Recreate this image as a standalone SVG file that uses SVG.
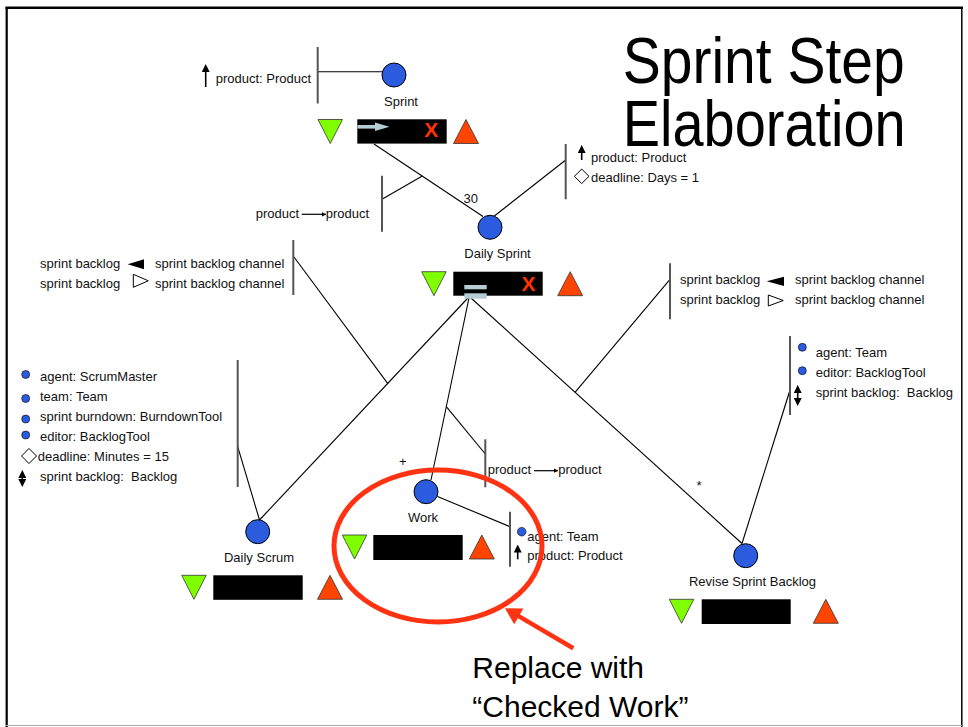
<svg xmlns="http://www.w3.org/2000/svg" width="968" height="727" viewBox="0 0 968 727">
  <style>
    text { font-family: "Liberation Sans", Arial, Helvetica, sans-serif; fill: #111; }
    .lbl { font-size: 13px; }
    .big { font-size: 30px; fill: #000; }
    .title { font-size: 65px; fill: #000; }
    .conn line { stroke: #000; stroke-width: 1.1; fill: none; }
    .bar { stroke: #555; stroke-width: 2; }
    .step { fill: #2B5BDE; stroke: #000; stroke-width: 1; }
    .pre { fill: #80FF00; stroke: #333; stroke-width: 0.8; }
    .post { fill: #FF4400; stroke: #333; stroke-width: 0.8; }
    .body { fill: #000; }
    .x { font-size: 21px; font-weight: bold; fill: #FF3300; }
    .flow { fill: #B4CCD4; }
    .dot { fill: #2B5BDE; stroke: #000; stroke-width: 0.6; }
    .dia { fill: #fff; stroke: #000; stroke-width: 1; }
    .arw { stroke: #000; stroke-width: 1.6; }
    .ptr { stroke: #000; stroke-width: 1.2; }
    .note { fill: none; stroke: #FF3311; stroke-width: 5; }
  </style>
  <defs>
    <polygon id="preTri" points="0,0 24.5,0 12.25,24"/>
    <polygon id="postTri" points="0,24 12.5,0 25,24"/>
    <marker id="headUp" viewBox="0 0 8 8" refX="4" refY="4" markerWidth="5" markerHeight="5" orient="auto-start-reverse">
      <path d="M0,0 L8,4 L0,8 z" fill="#000"/>
    </marker>
    <marker id="headSm" viewBox="0 0 8 8" refX="7" refY="4" markerWidth="4" markerHeight="4" orient="auto">
      <path d="M0,0 L8,4 L0,8 z" fill="#000"/>
    </marker>
  </defs>

  <!-- page frame -->
  <rect x="0" y="0" width="968" height="727" fill="#fff"/>
  <line x1="5.5" y1="7.8" x2="963" y2="7.8" stroke="#000" stroke-width="2.4"/>
  <line x1="6.7" y1="7" x2="6.7" y2="727" stroke="#000" stroke-width="2.2"/>
  <line x1="961.8" y1="7" x2="961.8" y2="727" stroke="#000" stroke-width="1.5"/>
  <line x1="6" y1="725.5" x2="962" y2="725.5" stroke="#aaa" stroke-width="1.2"/>

  <!-- title -->
  <text class="title" x="622.7" y="83" textLength="282" lengthAdjust="spacingAndGlyphs">Sprint Step</text>
  <text class="title" x="622.7" y="145.5" textLength="283" lengthAdjust="spacingAndGlyphs">Elaboration</text>

  <!-- connectors -->
  <g id="connectors" class="conn">
    <line x1="318" y1="71.7" x2="382.5" y2="71.7"/>
    <line x1="374" y1="144" x2="483" y2="216.5"/>
    <line x1="422.3" y1="176" x2="382" y2="199.3"/>
    <line x1="494.3" y1="216" x2="565.7" y2="160"/>
    <line x1="469.3" y1="296.5" x2="259.5" y2="520"/>
    <line x1="388" y1="383.8" x2="294" y2="257"/>
    <line x1="469.3" y1="296.5" x2="431" y2="480"/>
    <line x1="446.3" y1="406.7" x2="485.3" y2="454"/>
    <line x1="469.3" y1="296.5" x2="742" y2="543.5"/>
    <line x1="575" y1="392.4" x2="670" y2="279.3"/>
    <line x1="437.5" y1="496.5" x2="510" y2="526.7"/>
    <line x1="237.7" y1="446.7" x2="259.5" y2="520"/>
    <line x1="790" y1="390" x2="742" y2="543.5"/>
  </g>

  <!-- multiplicity marks -->
  <g id="multiplicities">
    <text class="lbl" x="463.5" y="202.7">30</text>
    <text class="lbl" x="402.7" y="466" text-anchor="middle">+</text>
    <text class="lbl" x="699" y="490" text-anchor="middle">*</text>
  </g>

  <!-- Sprint -->
  <g id="sprint">
    <circle class="step" cx="394" cy="75" r="12"/>
    <text class="lbl" x="401" y="106" text-anchor="middle">Sprint</text>
    <use href="#preTri" class="pre" x="318" y="119.5"/>
    <rect class="body" x="357.3" y="119.3" width="89.4" height="24.3"/>
    <rect class="flow" x="357.5" y="125" width="19" height="3.6"/>
    <polygon class="flow" points="375,122.5 389.5,126.8 375,131.1"/>
    <text class="x" x="431.3" y="136.7" text-anchor="middle">X</text>
    <use href="#postTri" class="post" x="453.5" y="119.5"/>
  </g>
  <g id="sprint-params">
    <line class="bar" x1="317.7" y1="47" x2="317.7" y2="103.5"/>
    <line class="arw" x1="205.7" y1="87" x2="205.7" y2="68" marker-end="url(#headUp)"/>
    <text class="lbl" x="215.7" y="82.7">product: Product</text>
  </g>
  <g id="sprint-flow">
    <line class="bar" x1="382" y1="175.7" x2="382" y2="231.7"/>
    <text class="lbl" x="255.7" y="218.3">product</text>
    <line class="ptr" x1="301.7" y1="214.3" x2="325.7" y2="214.3" marker-end="url(#headSm)"/>
    <text class="lbl" x="325.7" y="218.3">product</text>
  </g>

  <!-- Daily Sprint -->
  <g id="daily-sprint">
    <circle class="step" cx="490" cy="227.3" r="12"/>
    <text class="lbl" x="497.5" y="258.3" text-anchor="middle">Daily Sprint</text>
    <use href="#preTri" class="pre" x="421.7" y="271.7"/>
    <rect class="body" x="453.3" y="271.7" width="89.4" height="24"/>
    <rect class="flow" x="464.3" y="285" width="22.4" height="4.3"/>
    <rect class="flow" x="464.3" y="293.3" width="22.4" height="5.4"/>
    <text class="x" x="528.5" y="290.7" text-anchor="middle">X</text>
    <use href="#postTri" class="post" x="557.7" y="271.7"/>
  </g>
  <g id="daily-sprint-params">
    <line class="bar" x1="565.7" y1="144" x2="565.7" y2="199.3"/>
    <line class="arw" x1="581.7" y1="160" x2="581.7" y2="149" marker-end="url(#headUp)"/>
    <text class="lbl" x="591" y="161.7">product: Product</text>
    <polygon class="dia" points="581.7,169 589,176.3 581.7,183.6 574.4,176.3"/>
    <text class="lbl" x="591" y="181.7">deadline: Days = 1</text>
  </g>
  <g id="daily-sprint-channels-left">
    <line class="bar" x1="293.3" y1="240" x2="293.3" y2="295"/>
    <text class="lbl" x="40" y="268.3">sprint backlog</text>
    <polygon points="127.7,264.3 144,259.3 144,269.3" fill="#000"/>
    <text class="lbl" x="155" y="268.3">sprint backlog channel</text>
    <text class="lbl" x="40" y="288.3">sprint backlog</text>
    <polygon class="dia" points="133.3,274.3 148.3,280.8 133.3,287.3"/>
    <text class="lbl" x="155" y="288.3">sprint backlog channel</text>
  </g>
  <g id="daily-sprint-channels-right">
    <line class="bar" x1="670" y1="263.3" x2="670" y2="319.3"/>
    <text class="lbl" x="680" y="284.3">sprint backlog</text>
    <polygon points="766.7,281.3 784,276.7 784,286" fill="#000"/>
    <text class="lbl" x="795" y="284.3">sprint backlog channel</text>
    <text class="lbl" x="680" y="304.3">sprint backlog</text>
    <polygon class="dia" points="768.3,295 783.3,300.5 768.3,306"/>
    <text class="lbl" x="795" y="304.3">sprint backlog channel</text>
  </g>

  <!-- Daily Scrum -->
  <g id="daily-scrum">
    <circle class="step" cx="257.7" cy="531.7" r="12"/>
    <text class="lbl" x="259" y="562.3" text-anchor="middle">Daily Scrum</text>
    <use href="#preTri" class="pre" x="181.7" y="575.3"/>
    <rect class="body" x="213.3" y="575.3" width="89.4" height="24.5"/>
    <use href="#postTri" class="post" x="317.5" y="575.3"/>
  </g>
  <g id="daily-scrum-params">
    <line class="bar" x1="237.7" y1="360" x2="237.7" y2="487"/>
    <circle class="dot" cx="25.7" cy="374.5" r="4"/>
    <text class="lbl" x="40" y="380.7">agent: ScrumMaster</text>
    <circle class="dot" cx="25.7" cy="398.5" r="4"/>
    <text class="lbl" x="40" y="400.7">team: Team</text>
    <circle class="dot" cx="25.7" cy="419" r="4"/>
    <text class="lbl" x="40" y="420.7">sprint burndown: BurndownTool</text>
    <circle class="dot" cx="25.7" cy="435" r="4"/>
    <text class="lbl" x="40" y="440.7">editor: BacklogTool</text>
    <polygon class="dia" points="29,448.5 36.5,456 29,463.5 21.5,456"/>
    <text class="lbl" x="37.7" y="460.7">deadline: Minutes = 15</text>
    <line class="arw" x1="22.3" y1="474" x2="22.3" y2="483" marker-start="url(#headUp)" marker-end="url(#headUp)"/>
    <text class="lbl" x="40" y="480.7" xml:space="preserve">sprint backlog:  Backlog</text>
  </g>

  <!-- Work -->
  <g id="work">
    <circle class="step" cx="426" cy="491.7" r="12"/>
    <text class="lbl" x="423" y="521.7" text-anchor="middle">Work</text>
    <use href="#preTri" class="pre" x="342.3" y="535"/>
    <rect class="body" x="373.3" y="535" width="89.4" height="25"/>
    <use href="#postTri" class="post" x="469.3" y="535"/>
  </g>
  <g id="work-flow">
    <line class="bar" x1="485.3" y1="439.3" x2="485.3" y2="487.3"/>
    <text class="lbl" x="487.7" y="474">product</text>
    <line class="ptr" x1="534" y1="470.7" x2="557.7" y2="470.7" marker-end="url(#headSm)"/>
    <text class="lbl" x="558.3" y="474">product</text>
  </g>
  <g id="work-params">
    <line class="bar" x1="510" y1="511.7" x2="510" y2="566.7"/>
    <circle class="dot" cx="521.7" cy="531.7" r="4.3"/>
    <text class="lbl" x="527.3" y="540.7">agent: Team</text>
    <line class="arw" x1="517.7" y1="559.3" x2="517.7" y2="548.5" marker-end="url(#headUp)"/>
    <text class="lbl" x="527.3" y="560">product: Product</text>
  </g>

  <!-- Revise Sprint Backlog -->
  <g id="revise-sprint-backlog">
    <circle class="step" cx="745.7" cy="555.7" r="12"/>
    <text class="lbl" x="752.5" y="586" text-anchor="middle">Revise Sprint Backlog</text>
    <use href="#preTri" class="pre" x="669.3" y="599.3"/>
    <rect class="body" x="701.7" y="599.3" width="89" height="24.7"/>
    <use href="#postTri" class="post" x="813.3" y="599.3"/>
  </g>
  <g id="revise-params">
    <line class="bar" x1="790" y1="336" x2="790" y2="415"/>
    <circle class="dot" cx="802.3" cy="347.3" r="4"/>
    <text class="lbl" x="815.7" y="356.7">agent: Team</text>
    <circle class="dot" cx="802.3" cy="370.7" r="4"/>
    <text class="lbl" x="815.7" y="376.7">editor: BacklogTool</text>
    <line class="arw" x1="797.7" y1="389" x2="797.7" y2="402" marker-start="url(#headUp)" marker-end="url(#headUp)"/>
    <text class="lbl" x="815.7" y="396.7" xml:space="preserve">sprint backlog:  Backlog</text>
  </g>

  <!-- annotation -->
  <g id="annotation">
    <ellipse class="note" cx="438" cy="546" rx="104" ry="76"/>
    <line x1="573.3" y1="648.3" x2="516" y2="614.6" stroke="#FF3311" stroke-width="4.5"/>
    <polygon points="505,608.3 523.4,608.6 514.2,624.2" fill="#FF3311"/>
    <text class="big" x="472.3" y="678.3">Replace with</text>
    <text class="big" x="472.3" y="716.7">“Checked Work”</text>
  </g>
</svg>
